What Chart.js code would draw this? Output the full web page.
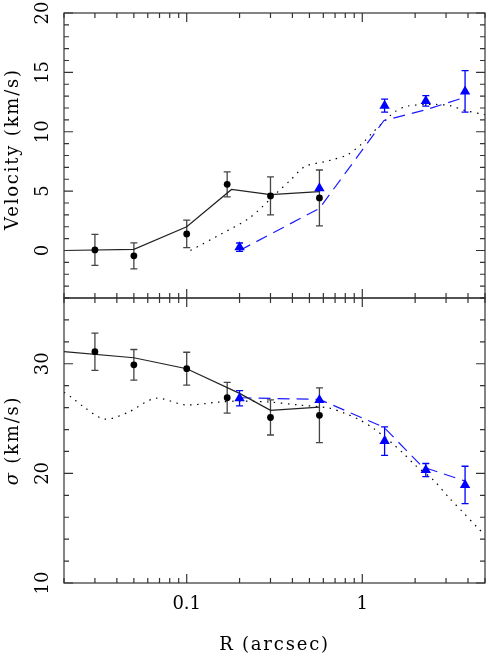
<!DOCTYPE html>
<html lang="en">
<head>
<meta charset="UTF-8" />
<title>Velocity and dispersion profile</title>
<script src="https://cdn.jsdelivr.net/npm/chart.js"></script>
<style>
  body { margin: 0; background: #fff; }
  canvas { display: block; }
</style>
</head>
<body>
<canvas id="profile" width="491" height="658"></canvas>
<script>
// black circles
const radiusBlack = [0.03, 0.05, 0.1, 0.17, 0.3, 0.57];
const velBlack = [0.05, -0.45, 1.4, 5.57, 4.6, 4.43];
const velBlackErr = [1.3, 1.1, 1.15, 1.05, 1.6, 2.35];
const sigBlack = [31.1, 29.9, 29.55, 26.9, 25.1, 25.3];
const sigBlackErr = [1.7, 1.4, 1.5, 1.4, 1.6, 2.5];

// blue triangles
const radiusBlue = [0.2, 0.57, 1.34, 2.3, 3.85];
const velBlue = [0.28, 5.25, 12.2, 12.6, 13.4];
const velBlueErr = [0.35, 0, 0.55, 0.45, 1.75];
const sigBlue = [26.85, 26.7, 22.95, 20.3, 18.95];
const sigBlueErr = [0.7, 0, 1.3, 0.6, 1.7];

// model curves
const velSolidR = [0.02, 0.05, 0.1, 0.18, 0.3, 0.57];
const velSolid = [0, 0.1, 2.0, 5.14, 4.7, 4.95];
const sigSolidR = [0.02, 0.05, 0.1, 0.2, 0.3, 0.57];
const sigSolid = [31.1, 30.55, 29.55, 27.3, 25.75, 26.05];

const velDashR = [0.2, 0.57, 1.33, 2.3, 3.85];
const velDash = [0.0, 3.55, 10.95, 11.85, 12.9];
const sigDashR = [0.2, 0.57, 1.33, 2.2, 3.85];
const sigDash = [26.9, 26.75, 24.2, 20.6, 19.3];

const velDotR = [0.105, 0.158, 0.229, 0.33, 0.39, 0.47, 0.61, 0.69, 0.82, 0.98, 1.14, 1.33, 1.54, 1.8, 2.33, 2.65, 3.16, 3.83, 4.76, 5];
const velDot = [0, 1.41, 2.77, 4.94, 5.93, 7.06, 7.48, 7.68, 8.05, 8.9, 9.9, 10.87, 11.7, 12.15, 12.3, 12.3, 12.2, 11.8, 11.5, 11.45];
const sigDotR = [0.02, 0.022, 0.026, 0.034, 0.046, 0.0665, 0.098, 0.152, 0.2, 0.3, 0.43, 0.65, 0.79, 0.96, 1.16, 1.48, 1.72, 2.0, 2.54, 3.15, 3.67, 4.56, 5];
const sigDot = [27.4, 26.95, 26.05, 24.95, 25.55, 26.85, 26.25, 26.5, 26.6, 26.5, 26.25, 25.95, 25.5, 24.9, 24.1, 22.75, 21.8, 20.75, 19.4, 17.7, 16.6, 15.0, 14.4];

// ticks and labels
const xMajor = [0.1, 1];
const xMinor = [0.02, 0.03, 0.04, 0.05, 0.06, 0.07, 0.08, 0.09, 0.2, 0.3, 0.4, 0.5, 0.6, 0.7, 0.8, 0.9, 2, 3, 4, 5];
const xTickLabels = ['0.1', '1'];
const velTickLabels = ['0', '5', '10', '15', '20'];
const sigTickLabels = ['10', '20', '30'];

function pts(xs, ys) {
  return xs.map((x, i) => ({ x: x, y: ys[i] }));
}

const FONT = '"DejaVu Serif", serif';

const panelPlugin = {
  id: 'panels',
  beforeDatasetsDraw(chart) {
    const ctx = chart.ctx;
    const xs = chart.scales.x;
    ctx.save();
    chart.data.datasets.forEach(ds => {
      if (!ds.errors) return;
      const ys = chart.scales[ds.yAxisID];
      ctx.strokeStyle = ds.errColor;
      ctx.lineWidth = 1.3;
      ctx.beginPath();
      ds.data.forEach((p, j) => {
        const e = ds.errors[j];
        if (!e) return;
        const px = xs.getPixelForValue(p.x);
        const y1 = ys.getPixelForValue(p.y - e);
        const y2 = ys.getPixelForValue(p.y + e);
        ctx.moveTo(px, y1); ctx.lineTo(px, y2);
        ctx.moveTo(px - 3.5, y1); ctx.lineTo(px + 3.5, y1);
        ctx.moveTo(px - 3.5, y2); ctx.lineTo(px + 3.5, y2);
      });
      ctx.stroke();
    });
    ctx.restore();
  },
  afterDraw(chart) {
    const ctx = chart.ctx;
    const xs = chart.scales.x;
    const L = chart.chartArea.left, R = chart.chartArea.right;
    ctx.save();
    ctx.strokeStyle = '#333';
    ctx.lineWidth = 1.2;

    const panels = [
      { s: chart.scales.yvel, min: -4, max: 20, step: 1, major: 5 },
      { s: chart.scales.ysig, min: 10, max: 36, step: 2, major: 10 }
    ];
    panels.forEach(p => {
      const T = p.s.top, B = p.s.bottom;
      ctx.strokeRect(L, T, R - L, B - T);
      ctx.beginPath();
      xMinor.concat(xMajor).forEach(v => {
        const px = xs.getPixelForValue(v);
        const len = xMajor.includes(v) ? 9 : 5;
        ctx.moveTo(px, B); ctx.lineTo(px, B - len);
        ctx.moveTo(px, T); ctx.lineTo(px, T + len);
      });
      for (let v = p.min; v <= p.max; v += p.step) {
        const py = p.s.getPixelForValue(v);
        const len = v % p.major === 0 ? 9 : 5;
        ctx.moveTo(L, py); ctx.lineTo(L + len, py);
        ctx.moveTo(R, py); ctx.lineTo(R - len, py);
      }
      ctx.stroke();
    });

    // tick labels
    ctx.fillStyle = '#000';
    ctx.font = '18px ' + FONT;
    ctx.textAlign = 'center';
    ctx.textBaseline = 'middle';
    xTickLabels.forEach(t => {
      ctx.fillText(t, xs.getPixelForValue(parseFloat(t)), 604);
    });
    function vlabel(text, x, y) {
      ctx.save();
      ctx.translate(x, y);
      ctx.rotate(-Math.PI / 2);
      ctx.fillText(text, 0, 0);
      ctx.restore();
    }
    velTickLabels.forEach(t => vlabel(t, 43, chart.scales.yvel.getPixelForValue(parseFloat(t))));
    sigTickLabels.forEach(t => vlabel(t, 43, chart.scales.ysig.getPixelForValue(parseFloat(t))));

    // axis titles
    ctx.letterSpacing = '1.8px';
    ctx.fillText('R (arcsec)', (L + R) / 2, 645);
    vlabel('Velocity (km/s)', 13, 149);

    ctx.save();
    ctx.translate(13, (chart.scales.ysig.top + chart.scales.ysig.bottom) / 2);
    ctx.rotate(-Math.PI / 2);
    ctx.textAlign = 'left';
    ctx.font = 'italic 18px ' + FONT;
    const wSig = ctx.measureText('σ').width;
    ctx.font = '18px ' + FONT;
    const wRest = ctx.measureText(' (km/s)').width;
    const x0 = -(wSig + wRest) / 2;
    ctx.font = 'italic 18px ' + FONT;
    ctx.fillText('σ', x0, 0);
    ctx.font = '18px ' + FONT;
    ctx.fillText(' (km/s)', x0 + wSig, 0);
    ctx.restore();

    ctx.restore();
  }
};

const lineStyle = { showLine: true, pointRadius: 0, fill: false, borderWidth: 1.2, order: 2 };

new Chart(document.getElementById('profile'), {
  type: 'scatter',
  data: {
    datasets: [
      { data: pts(radiusBlack, velBlack), yAxisID: 'yvel', errors: velBlackErr, errColor: '#444',
        pointStyle: 'circle', pointRadius: 3.4, backgroundColor: '#000', borderColor: '#000', borderWidth: 0, order: 0 },
      { data: pts(radiusBlue, velBlue), yAxisID: 'yvel', errors: velBlueErr, errColor: '#0000ff',
        pointStyle: 'triangle', pointRadius: 6, backgroundColor: '#0000ff', borderColor: '#0000ff', borderWidth: 0, order: 0 },
      { data: pts(radiusBlack, sigBlack), yAxisID: 'ysig', errors: sigBlackErr, errColor: '#444',
        pointStyle: 'circle', pointRadius: 3.4, backgroundColor: '#000', borderColor: '#000', borderWidth: 0, order: 0 },
      { data: pts(radiusBlue, sigBlue), yAxisID: 'ysig', errors: sigBlueErr, errColor: '#0000ff',
        pointStyle: 'triangle', pointRadius: 6, backgroundColor: '#0000ff', borderColor: '#0000ff', borderWidth: 0, order: 0 },

      Object.assign({ data: pts(velSolidR, velSolid), yAxisID: 'yvel', borderColor: '#222' }, lineStyle),
      Object.assign({ data: pts(sigSolidR, sigSolid), yAxisID: 'ysig', borderColor: '#222' }, lineStyle),
      Object.assign({ data: pts(velDashR, velDash), yAxisID: 'yvel', borderColor: '#1a1aff', borderDash: [12, 7] }, lineStyle),
      Object.assign({ data: pts(sigDashR, sigDash), yAxisID: 'ysig', borderColor: '#1a1aff', borderDash: [12, 7] }, lineStyle),
      Object.assign({ data: pts(velDotR, velDot), yAxisID: 'yvel', borderColor: '#000', borderDash: [1.5, 5.5], tension: 0.3 }, lineStyle),
      Object.assign({ data: pts(sigDotR, sigDot), yAxisID: 'ysig', borderColor: '#000', borderDash: [1.5, 5.5], tension: 0.3 }, lineStyle)
    ]
  },
  options: {
    responsive: false,
    animation: false,
    layout: { padding: { left: 64, right: 3, top: 13, bottom: 75 } },
    plugins: { legend: { display: false }, tooltip: { enabled: false } },
    scales: {
      x: { type: 'logarithmic', min: 0.02, max: 5, display: false },
      ysig: { type: 'linear', min: 10, max: 36, position: 'left', stack: 'panels', stackWeight: 1, display: false },
      yvel: { type: 'linear', min: -4, max: 20, position: 'left', stack: 'panels', stackWeight: 1, display: false }
    }
  },
  plugins: [panelPlugin]
});
</script>
</body>
</html>
